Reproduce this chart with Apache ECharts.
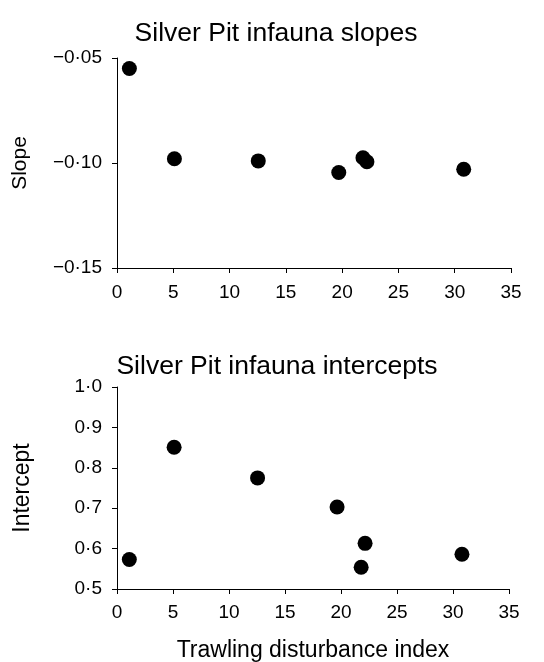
<!DOCTYPE html>
<html><head><meta charset="utf-8">
<script src="https://cdn.jsdelivr.net/npm/echarts@6/dist/echarts.min.js"></script>
<style>html,body{margin:0;padding:0;background:#fff}#c{width:544px;height:662px}</style>
</head><body><div id="c"></div>
<script>
const disturbance = [1.1, 5.1, 12.55, 19.7, 21.85, 22.2, 30.8];
const slopes = [-0.055, -0.098, -0.099, -0.1045, -0.0975, -0.0994, -0.103];
const interceptX = [1.1, 5.1, 12.55, 19.65, 21.8, 22.15, 30.8];
const intercepts = [0.573, 0.851, 0.775, 0.703, 0.554, 0.613, 0.586];
const xTicks = [0, 5, 10, 15, 20, 25, 30, 35];
const titles = ['Silver Pit infauna slopes', 'Silver Pit infauna intercepts'];

const FONT = 'Liberation Sans';
const fmtDot = (v, d) => {
  const s = Math.abs(v).toFixed(d).replace('.', '\u00b7');
  return (v < 0 ? '\u2212' : '') + s;
};
const chart = echarts.init(document.getElementById('c'), null, {renderer: 'canvas'});
const axisCommon = {
  axisLine: {show: true, lineStyle: {color: '#000', width: 1}},
  axisTick: {show: true, length: 5, lineStyle: {color: '#000'}},
  splitLine: {show: false},
  axisLabel: {color: '#000', fontFamily: FONT, fontSize: 19}
};
chart.setOption({
  animation: false,
  title: [
    {text: titles[0], left: 271, top: 15, textAlign: 'center', textStyle: {fontFamily: FONT, fontSize: 26.5, fontWeight: 'normal', color: '#000'}},
    {text: titles[1], left: 272, top: 348, textAlign: 'center', textStyle: {fontFamily: FONT, fontSize: 26.5, fontWeight: 'normal', color: '#000'}}
  ],
  grid: [
    {left: 117, right: 33, top: 58, height: 210, outerBoundsMode: 'none', containLabel: false},
    {left: 117, right: 35, top: 387, height: 202, outerBoundsMode: 'none', containLabel: false}
  ],
  xAxis: [
    Object.assign({}, axisCommon, {gridIndex: 0, type: 'value', min: xTicks[0], max: xTicks[xTicks.length-1], interval: 5,
      axisLabel: Object.assign({}, axisCommon.axisLabel, {margin: 15})}),
    Object.assign({}, axisCommon, {gridIndex: 1, type: 'value', min: xTicks[0], max: xTicks[xTicks.length-1], interval: 5,
      name: 'Trawling disturbance index', nameLocation: 'middle', nameGap: 50,
      nameTextStyle: {fontFamily: FONT, fontSize: 23, color: '#000'},
      axisLabel: Object.assign({}, axisCommon.axisLabel, {margin: 14})})
  ],
  yAxis: [
    Object.assign({}, axisCommon, {gridIndex: 0, type: 'value', min: -0.15, max: -0.05, interval: 0.05,
      name: 'Slope', nameLocation: 'middle', nameGap: 86, nameRotate: 90,
      nameTextStyle: {fontFamily: FONT, fontSize: 21, color: '#000'},
      axisLabel: Object.assign({}, axisCommon.axisLabel, {margin: 15, formatter: v => fmtDot(v, 2)})}),
    Object.assign({}, axisCommon, {gridIndex: 1, type: 'value', min: 0.5, max: 1.0, interval: 0.1,
      name: 'Intercept', nameLocation: 'middle', nameGap: 83, nameRotate: 90,
      nameTextStyle: {fontFamily: FONT, fontSize: 23, color: '#000'},
      axisLabel: Object.assign({}, axisCommon.axisLabel, {margin: 15, formatter: v => fmtDot(v, 1)})})
  ],
  series: [
    {type: 'scatter', xAxisIndex: 0, yAxisIndex: 0, symbolSize: 15, itemStyle: {color: '#000', opacity: 1},
      data: disturbance.map((x, i) => [x, slopes[i]])},
    {type: 'scatter', xAxisIndex: 1, yAxisIndex: 1, symbolSize: 15, itemStyle: {color: '#000', opacity: 1},
      data: interceptX.map((x, i) => [x, intercepts[i]])}
  ]
});
</script></body></html>
